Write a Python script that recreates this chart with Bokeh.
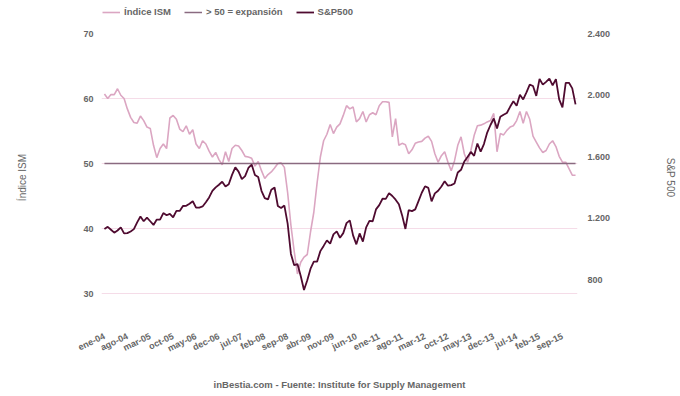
from bokeh.plotting import figure
from bokeh.layouts import column
from bokeh.models import (Range1d, LinearAxis, FixedTicker, Legend, LegendItem)
from bokeh.embed import file_html
from bokeh.resources import INLINE

# ---------------- data ----------------
ism = [60.7, 60.0, 60.6, 60.6, 61.5, 60.5, 60.0, 58.4, 57.1, 56.3,
       56.2, 57.3, 56.6, 55.6, 55.4, 52.8, 50.9, 52.3, 53.0, 52.3,
       57.0, 57.4, 56.8, 55.3, 54.9, 55.8, 54.5, 55.2, 53.0, 52.3,
       53.5, 53.0, 51.9, 51.0, 51.7, 50.6, 49.8, 51.8, 50.3, 52.3,
       52.8, 52.7, 52.0, 51.1, 51.0, 50.8, 49.6, 50.3, 48.9, 47.7,
       48.3, 48.7, 49.3, 50.0, 50.1, 49.4, 45.5, 40.5, 36.5, 33.0,
       34.8, 35.6, 36.0, 39.5, 42.5, 47.0, 51.0, 53.5, 54.5, 56.0,
       54.6, 55.6, 56.1, 57.4, 58.9, 58.4, 58.7, 56.4, 56.9, 58.0,
       56.4, 57.5, 57.8, 57.5, 58.9, 59.5, 59.5, 59.4, 54.1, 56.9,
       52.8, 53.1, 52.9, 51.5, 52.1, 53.1, 53.3, 53.4, 53.9, 54.2,
       53.4, 51.5, 50.2, 51.2, 51.8, 50.2, 48.9, 50.4, 52.8, 54.1,
       51.5, 50.2, 52.0, 54.3, 55.8, 55.9, 56.1, 56.4, 56.6, 57.7,
       51.8, 54.6, 54.4, 55.1, 55.6, 55.8, 56.6, 58.0, 56.2, 58.0,
       56.8, 54.2, 53.3, 52.4, 51.7, 52.0, 53.0, 53.5, 52.6, 51.1,
       50.2, 50.2, 49.2, 48.2, 48.2]

sp500 = [1131, 1145, 1126, 1107, 1121, 1141, 1102, 1104, 1115, 1130, 1174, 1212,
         1181, 1204, 1181, 1157, 1192, 1191, 1234, 1220, 1229, 1207, 1249, 1248,
         1280, 1281, 1295, 1311, 1270, 1270, 1277, 1304, 1336, 1378, 1401, 1418,
         1438, 1407, 1421, 1482, 1531, 1503, 1455, 1474, 1527, 1549, 1481, 1468,
         1379, 1331, 1323, 1386, 1400, 1280, 1267, 1283, 1166, 969, 896, 903,
         826, 735, 798, 873, 919, 919, 987, 1021, 1057, 1036, 1096, 1115,
         1074, 1104, 1169, 1187, 1089, 1031, 1102, 1049, 1141, 1183, 1181, 1258,
         1286, 1327, 1326, 1364, 1345, 1321, 1292, 1219, 1131, 1253, 1247, 1258,
         1312, 1366, 1408, 1398, 1310, 1362, 1379, 1407, 1441, 1412, 1416, 1426,
         1498, 1515, 1569, 1598, 1631, 1606, 1686, 1633, 1682, 1757, 1806, 1848,
         1783, 1859, 1872, 1884, 1924, 1960, 1931, 2003, 1972, 2018, 2068, 2059,
         1995, 2105, 2068, 2086, 2107, 2063, 2104, 1972, 1920, 2079, 2080, 2044,
         1940]

expansion_level = 50

tick_labels = ["ene-04", "ago-04", "mar-05", "oct-05", "may-06", "dec-06",
               "jul-07", "feb-08", "sep-08", "abr-09", "nov-09", "jun-10",
               "ene-11", "ago-11", "mar-12", "oct-12", "may-13", "dec-13",
               "jul-14", "feb-15", "sep-15"]
tick_step = 7

left_ticks = [30, 40, 50, 60, 70]
left_min, left_max = 30, 70
right_ticks = [800, 1200, 1600, 2000, 2400]
right_tick_labels = ["800", "1.200", "1.600", "2.000", "2.400"]
right_min, right_max = 712, 2400

series_names = ["Índice ISM", "> 50 = expansión", "S&P500"]

# ---------------- layout ----------------
W, H = 680, 396
LEG_H = 25           # strip holding the legend, above the chart
AXIS_TOP = 33        # pixel row of the top gridline (page)
AXIS_BOTTOM = 293    # pixel row of the bottom gridline (page)
FRAME_BOTTOM = 321   # frame runs a bit below the 30 line (centres the axis titles)
ext_b = (FRAME_BOTTOM - AXIS_BOTTOM) / (AXIS_BOTTOM - AXIS_TOP)

months = list(range(len(ism)))
fifty = [expansion_level] * len(ism)
series = [ism, fifty, sp500]

FONT = "Liberation Sans"
GRAY = "#666666"
ISM_C = "#dba6c2"
EXP_C = "#8a6a80"
SP_C = "#4f0b30"
COLORS = [ISM_C, EXP_C, SP_C]
WIDTHS = [1.6, 1.5, 1.8]

p = figure(width=W, height=H - LEG_H, output_backend="svg", toolbar_location=None,
           x_range=Range1d(-0.9, len(ism) - 0.4),
           y_range=Range1d(left_min - (left_max - left_min) * ext_b, left_max),
           min_border_left=101, min_border_right=103, min_border_top=AXIS_TOP - LEG_H,
           min_border_bottom=H - FRAME_BOTTOM)
p.outline_line_color = None
p.background_fill_color = "white"
p.border_fill_color = "white"

p.extra_y_ranges = {"sp": Range1d(right_min - (right_max - right_min) * ext_b, right_max)}

p.line(months, ism, line_color=ISM_C, line_width=WIDTHS[0])
p.line(months, fifty, line_color=EXP_C, line_width=WIDTHS[1])
p.line(months, sp500, line_color=SP_C, line_width=WIDTHS[2], y_range_name="sp")

# grid
p.xgrid.visible = False
p.ygrid.grid_line_color = "#f5dce8"
p.ygrid.grid_line_width = 1
p.ygrid.ticker = FixedTicker(ticks=left_ticks)


def style_axis(ax):
    ax.axis_line_color = None
    ax.major_tick_line_color = None
    ax.minor_tick_line_color = None
    ax.major_tick_out = 0
    ax.major_tick_in = 0
    ax.minor_tick_out = 0
    ax.minor_tick_in = 0
    ax.major_label_text_font = FONT
    ax.major_label_text_font_size = "9px"
    ax.major_label_text_font_style = "bold"
    ax.major_label_text_color = GRAY
    ax.axis_label_text_font = FONT
    ax.axis_label_text_color = GRAY


# x axis
xa = p.xaxis[0]
style_axis(xa)
xticks = [i * tick_step for i in range(len(tick_labels))]
xa.ticker = FixedTicker(ticks=xticks)
xa.major_label_overrides = {t: lab for t, lab in zip(xticks, tick_labels)}
xa.major_label_orientation = 0.45
xa.major_label_standoff = 42 - (FRAME_BOTTOM - AXIS_BOTTOM)
xa.axis_label = "inBestia.com - Fuente: Institute for Supply Management"
xa.axis_label_text_font_size = "9.5px"
xa.axis_label_text_font_style = "bold"
xa.axis_label_standoff = 18

# left axis
ya = p.yaxis[0]
style_axis(ya)
ya.ticker = FixedTicker(ticks=left_ticks)
ya.major_label_standoff = 8
ya.axis_label = "Índice ISM"
ya.axis_label_text_font_size = "10px"
ya.axis_label_text_font_style = "normal"
ya.axis_label_standoff = 52

# right axis
ra = LinearAxis(y_range_name="sp", ticker=FixedTicker(ticks=right_ticks))
style_axis(ra)
ra.major_label_overrides = {t: lab for t, lab in zip(right_ticks, right_tick_labels)}
ra.major_label_standoff = 10
ra.axis_label = "S&P 500"
ra.axis_label_text_font_size = "10px"
ra.axis_label_text_font_style = "normal"
ra.axis_label_standoff = 52
p.add_layout(ra, "right")

# ---------------- legend strip ----------------
lf = figure(width=W, height=LEG_H, output_backend="svg", toolbar_location=None,
            x_range=Range1d(0, 1), y_range=Range1d(0, 1),
            x_axis_location=None, y_axis_location=None, min_border=0)
lf.outline_line_color = None
lf.xgrid.visible = False
lf.ygrid.visible = False
items = []
for name, ys, col, lw in zip(series_names, series, COLORS, WIDTHS):
    # the series again, hidden: only its legend swatch is shown in this strip
    r = lf.line(months, ys, line_color=col, line_width=lw, visible=False)
    items.append(LegendItem(label=name, renderers=[r]))

legend = Legend(items=items, orientation="horizontal", location=(1, LEG_H - 17))
legend.label_text_font = FONT
legend.label_text_font_size = "9.5px"
legend.label_text_font_style = "bold"
legend.label_text_color = GRAY
legend.glyph_width = 18
legend.glyph_height = 10
legend.label_height = 10
legend.label_standoff = 4
legend.spacing = 13
legend.padding = 0
legend.margin = 0
legend.border_line_color = None
legend.background_fill_alpha = 0
legend.inactive_fill_alpha = 0
lf.add_layout(legend)

layout = column(lf, p, spacing=0)
open("out.html", "w").write(file_html(layout, INLINE))
